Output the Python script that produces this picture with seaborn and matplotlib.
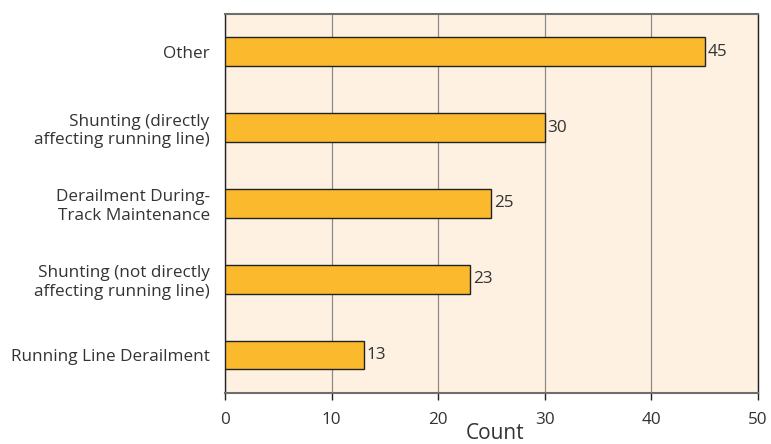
import matplotlib
matplotlib.use("Agg")
import matplotlib.pyplot as plt
import seaborn as sns
import pandas as pd

categories = [
    "Other",
    "Shunting (directly\naffecting running line)",
    "Derailment During-\nTrack Maintenance",
    "Shunting (not directly\naffecting running line)",
    "Running Line Derailment",
]
counts = [45, 30, 25, 23, 13]
x_ticks = [0, 10, 20, 30, 40, 50]

bar_color = "#FBB92E"
panel_color = "#FEF1E2"
text_color = "#333333"
fs = 12.3

sns.set_theme(style="white")
plt.rcParams["font.family"] = ["Open Sans", "DejaVu Sans"]

df = pd.DataFrame({"category": categories, "count": counts})

fig = plt.figure(figsize=(7.71, 4.44), dpi=100)
ax = fig.add_axes([0.2918, 0.1149, 0.9831 - 0.2918, 0.9685 - 0.1149])
ax.set_facecolor(panel_color)

sns.barplot(data=df, x="count", y="category", order=categories, orient="h",
            color=bar_color, saturation=1, width=0.38,
            edgecolor="#222222", linewidth=1.0, ax=ax, zorder=3)

ax.bar_label(ax.containers[0], labels=[str(v) for v in counts], padding=2,
             fontsize=fs, color=text_color)

ax.set_xlim(0, 50)
ax.set_ylim(len(categories) - 0.5, -0.5)
ax.set_xticks(x_ticks)
ax.set_xticklabels([str(t) for t in x_ticks], fontsize=fs, color=text_color)
ax.xaxis.grid(True, color="#8a8a8a", linewidth=0.9, zorder=0)
ax.set_axisbelow(True)

# category labels without ticks; ticks sit between categories
ax.set_yticks(range(len(categories)))
ax.set_yticklabels(categories, fontsize=fs, color=text_color, ha="right",
                   multialignment="right", linespacing=1.2)
ax.tick_params(axis="y", which="major", length=0, pad=11)
ax.set_yticks([i - 0.5 for i in range(len(categories) + 1)], minor=True)
ax.tick_params(axis="y", which="minor", length=5, width=1, color="#222222",
               direction="out")
ax.tick_params(axis="x", which="major", length=5, width=1, color="#222222",
               direction="out", bottom=True, pad=9)

ax.set_xlabel("Count", fontsize=15, color=text_color, va="center")
ax.xaxis.set_label_coords(0.507, -0.108)
ax.set_ylabel("")

for side in ["left", "right"]:
    ax.spines[side].set_color("#222222")
    ax.spines[side].set_linewidth(1.0)
for side in ["top", "bottom"]:
    ax.spines[side].set_color("#6e6e6e")
    ax.spines[side].set_linewidth(1.5)
    ax.spines[side].set_visible(True)

fig.savefig("out.png", dpi=100, facecolor="white")
